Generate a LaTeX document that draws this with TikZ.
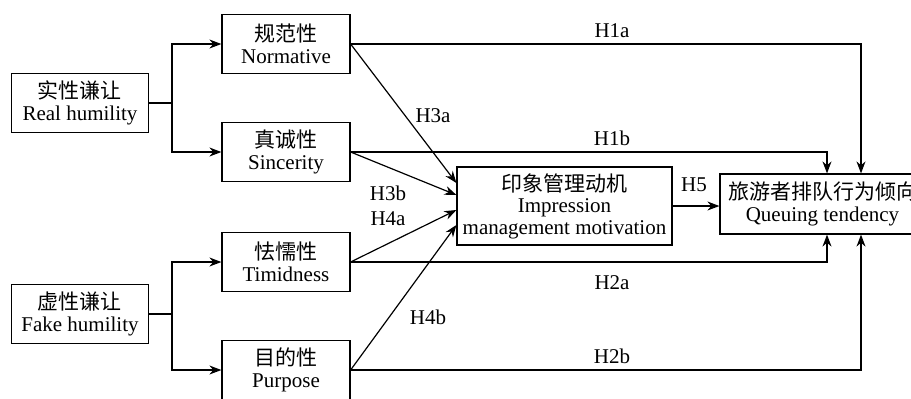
\documentclass[tikz,border=0pt]{standalone}
\usepackage{fontspec}
\setmainfont{Liberation Serif}
\newfontfamily\cjk{Noto Sans CJK SC}
\usetikzlibrary{arrows.meta}

\begin{document}
\begin{tikzpicture}[x=0.5pt,y=-0.5pt,line width=0.6pt,
        font=\fontsize{10.5}{10.8}\selectfont,
        >={Stealth[length=6pt,width=4.5pt]},
        box/.style={draw,align=center,inner sep=1pt,minimum height=29.5pt,minimum width=64pt}]
        \useasboundingbox (0,0) rectangle (911,398);
        \node[box,minimum width=68.5pt] (R) at (80,103) {{\cjk 实性谦让}\\Real humility};
        \node[box,minimum width=68.5pt] (F) at (80,314) {{\cjk 虚性谦让}\\Fake humility};
        \node[box] (norm) at (286,44) {{\cjk 规范性}\\Normative};
        \node[box] (sin) at (286,152) {{\cjk 真诚性}\\Sincerity};
        \node[box] (tim) at (286,262) {{\cjk 怯懦性}\\Timidness};
        \node[box] (pur) at (286,370) {{\cjk 目的性}\\Purpose};
        \node[box,minimum width=107.5pt,minimum height=39pt] (imp) at (564.5,206) {{\cjk 印象管理动机}\\Impression\\management motivation};
        \node[box,minimum width=102.5pt,minimum height=30pt] (que) at (822.5,204) {{\cjk 旅游者排队行为倾向}\\Queuing tendency};
        \coordinate (rb) at (172,103);
        \coordinate (fb) at (172,314);
        \draw (R.east) -- (rb);
        \draw[->] (rb) |- (norm.west);
        \draw[->] (rb) |- (sin.west);
        \draw (F.east) -- (fb);
        \draw[->] (fb) |- (tim.west);
        \draw[->] (fb) |- (pur.west);
        \draw[->] (norm.east) -| ([xshift=19.25pt]que.north);
        \draw[->] (sin.east) -| ([xshift=2.25pt]que.north);
        \draw[->] (tim.east) -| ([xshift=2.25pt]que.south);
        \draw[->] (pur.east) -| ([xshift=19.25pt]que.south);
        \draw[->] (norm.east) -- ([yshift=11.5pt]imp.west);
        \draw[->] (sin.east) -- ([yshift=5.5pt]imp.west);
        \draw[->] (tim.east) -- ([yshift=-2pt]imp.west);
        \draw[->] (pur.east) -- ([yshift=-9.5pt]imp.west);
        \draw[->] (imp.east) -- (imp.east -| que.west);
        \node (h1a) at (612,31) {H1a};
        \node (h1b) at (612,138) {H1b};
        \node (h2a) at (612,283) {H2a};
        \node (h2b) at (612,356) {H2b};
        \node (h3a) at (433,116) {H3a};
        \node (h3b) at (388,193) {H3b};
        \node (h4a) at (388,219) {H4a};
        \node (h4b) at (428,317) {H4b};
        \node (h5) at (694,185) {H5};
    \end{tikzpicture}
\end{document}
